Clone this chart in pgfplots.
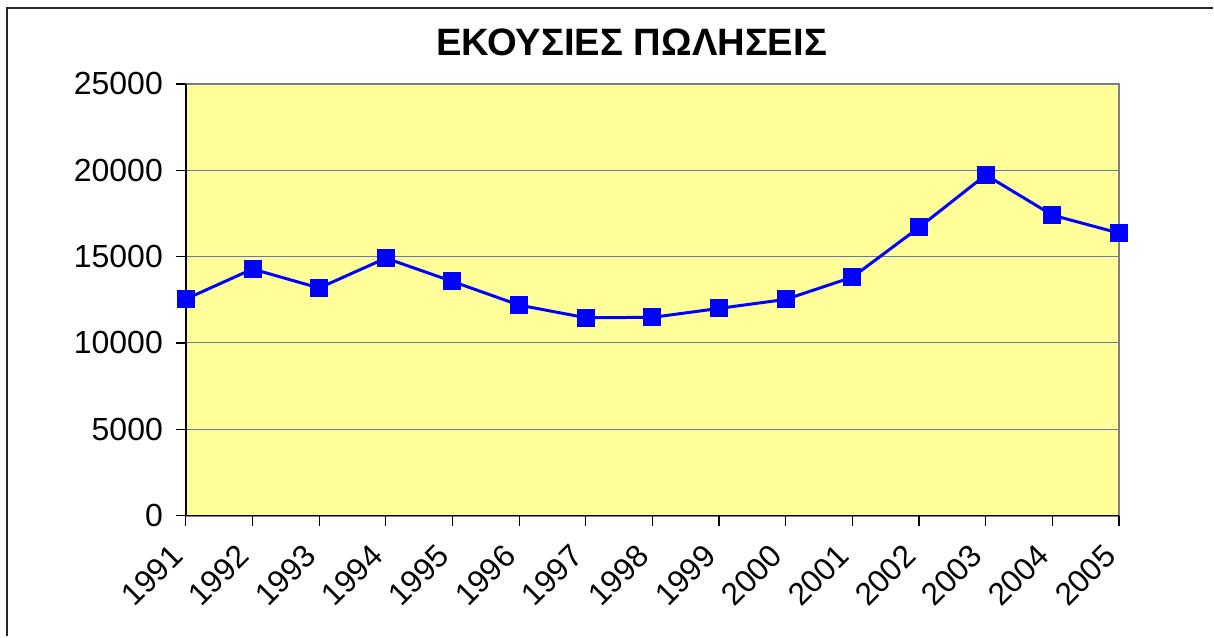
\documentclass[border=0pt]{standalone}
\usepackage{pgfplots}
\pgfplotsset{compat=1.18}
\usepackage{fontspec}
\setmainfont{Liberation Sans}
\definecolor{plotbg}{RGB}{255,255,153}
\definecolor{gridc}{RGB}{100,120,170}
\definecolor{mblue}{RGB}{0,0,255}
\begin{document}
\begin{tikzpicture}[x=1pt,y=1pt]
\fill[white] (0,0) rectangle (607,318.5);
\draw[black!85,line width=1pt] (3.5,0) -- (3.5,314.5) -- (607,314.5);
\node[font=\fontsize{19.1}{23}\selectfont\bfseries] at (316,297.5) {ΕΚΟΥΣΙΕΣ ΠΩΛΗΣΕΙΣ};
\begin{axis}[
  at={(93pt,60.5pt)}, anchor=south west,
  scale only axis, width=467pt, height=216pt,
  xmin=1991, xmax=2005, ymin=0, ymax=25000,
  scaled y ticks=false,
  xtick={1991,...,2005},
  xticklabels={1991,1992,1993,1994,1995,1996,1997,1998,1999,2000,2001,2002,2003,2004,2005},
  ytick={0,5000,...,25000},
  yticklabels={0,5000,10000,15000,20000,25000},
  tick align=outside, xtick pos=bottom, ytick pos=left,
  major tick length=5pt,
  tick style={black, line width=0.6pt},
  axis line style={draw=none},
  axis background/.style={fill=plotbg, draw=gray, line width=1pt},
  ymajorgrids, grid style={gridc, line width=0.5pt},
  yticklabel style={font=\fontsize{16}{19}\selectfont, xshift=-3pt},
  xticklabel style={font=\fontsize{15.8}{18}\selectfont, xshift=-2pt, yshift=-10pt, rotate=45, anchor=east},
  clip=false,
]
\draw[black, line width=0.7pt] (rel axis cs:0,1) -- (rel axis cs:0,0) -- (rel axis cs:1,0);
\addplot[mblue, line width=1.5pt, mark=square*, mark size=3.75pt, mark options={solid, fill=mblue, draw=mblue}]
coordinates {
(1991,12540) (1992,14280) (1993,13180) (1994,14910) (1995,13560)
(1996,12190) (1997,11460) (1998,11480) (1999,12000) (2000,12520)
(2001,13810) (2002,16690) (2003,19730) (2004,17400) (2005,16360)
};
\end{axis}
\end{tikzpicture}
\end{document}
